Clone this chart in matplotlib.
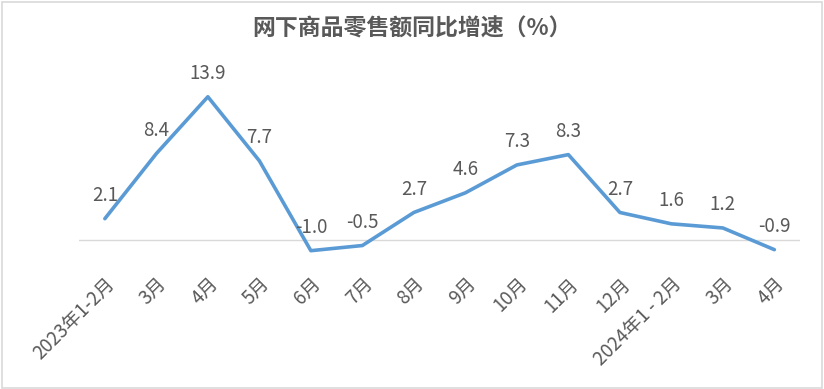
import matplotlib
matplotlib.use('Agg')
import matplotlib.pyplot as plt
from matplotlib.patches import Rectangle

plt.rcParams['font.family'] = ['Noto Sans CJK SC', 'DejaVu Sans']

months = ['2023年1-2月', '3月', '4月', '5月', '6月', '7月', '8月', '9月',
          '10月', '11月', '12月', '2024年1 - 2月', '3月', '4月']
growth = [2.1, 8.4, 13.9, 7.7, -1.0, -0.5, 2.7, 4.6, 7.3, 8.3, 2.7, 1.6, 1.2, -0.9]

gray = '#595959'
blue = '#5B9BD5'

fig = plt.figure(figsize=(8.24, 3.89), dpi=100)
ax = fig.add_axes([0.096, 0.329, 0.875, 0.478])

x = list(range(len(growth)))
ax.plot(x, growth, color=blue, linewidth=2.6, solid_capstyle='round', zorder=3)
ax.axhline(0, color='#D9D9D9', linewidth=1, zorder=1)

for xi, v in zip(x, growth):
    ax.annotate(f'{v:.1f}', (xi, v), xytext=(0, 9), textcoords='offset points',
                ha='center', va='bottom', fontsize=13.5, color=gray)

ax.set_xlim(-0.5, len(growth) - 0.5)
ax.set_ylim(-2, 16)
ax.set_xticks(x)
ax.set_xticklabels(months, rotation=45, ha='right', rotation_mode='anchor',
                   fontsize=13.5, color=gray, fontweight='light')
ax.tick_params(axis='x', length=0, pad=9)
ax.set_yticks([])
for s in ax.spines.values():
    s.set_visible(False)

fig.text(0.5, 0.925, '网下商品零售额同比增速（%）', ha='center', va='center',
         fontsize=16.5, fontweight='bold', color=gray)

fig.patches.append(Rectangle((0.002, 0.003), 0.995, 0.993, transform=fig.transFigure,
                             fill=False, edgecolor='#D9D9D9', linewidth=1.2))

fig.savefig('out.png', dpi=100)
